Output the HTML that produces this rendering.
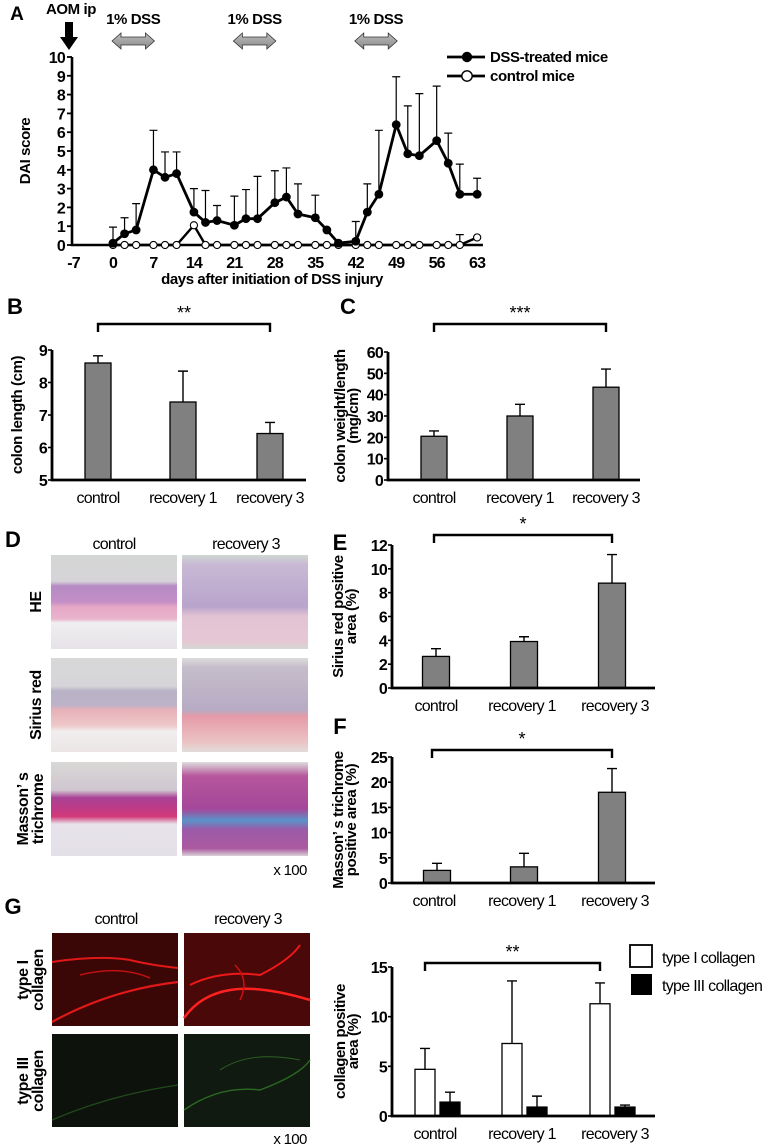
<!DOCTYPE html>
<html><head><meta charset="utf-8">
<style>
html,body{margin:0;padding:0;background:#fff;}
svg{display:block;font-family:"Liberation Sans",Arial,sans-serif;}
text{fill:#000;}
.tk{font-weight:bold;letter-spacing:-0.8px;}
.cat{letter-spacing:-0.7px;}
.ttl{font-weight:bold;letter-spacing:-0.4px;}
</style></head>
<body>
<svg id="fig" width="776" height="1147" viewBox="0 0 776 1147" xmlns="http://www.w3.org/2000/svg">
<defs>
<linearGradient id="heC" x1="0" y1="0" x2="0" y2="1">
<stop offset="0" stop-color="#d3d6d3"/><stop offset="0.28" stop-color="#d6d3d8"/><stop offset="0.33" stop-color="#b58ac4"/><stop offset="0.5" stop-color="#c48fc6"/><stop offset="0.55" stop-color="#e6a7c6"/><stop offset="0.68" stop-color="#e9b4cc"/><stop offset="0.72" stop-color="#f0eef0"/><stop offset="1" stop-color="#e6e2e8"/></linearGradient>
<linearGradient id="heR" x1="0" y1="0" x2="0" y2="1">
<stop offset="0" stop-color="#cfd8d1"/><stop offset="0.1" stop-color="#c8b9d4"/><stop offset="0.55" stop-color="#b9a4cc"/><stop offset="0.65" stop-color="#e2c3d3"/><stop offset="0.92" stop-color="#e6c7d4"/><stop offset="1" stop-color="#d2d9d4"/></linearGradient>
<linearGradient id="srC" x1="0" y1="0" x2="0" y2="1">
<stop offset="0" stop-color="#d8d8d8"/><stop offset="0.3" stop-color="#d6d4d8"/><stop offset="0.35" stop-color="#b8b2c6"/><stop offset="0.5" stop-color="#bdb3c8"/><stop offset="0.55" stop-color="#e7b0b8"/><stop offset="0.72" stop-color="#edc9c9"/><stop offset="0.78" stop-color="#f1eeee"/><stop offset="1" stop-color="#ebe5e6"/></linearGradient>
<linearGradient id="srR" x1="0" y1="0" x2="0" y2="1">
<stop offset="0" stop-color="#dcdcdc"/><stop offset="0.1" stop-color="#c5bdca"/><stop offset="0.55" stop-color="#b7abc4"/><stop offset="0.62" stop-color="#e59aa8"/><stop offset="0.9" stop-color="#ebc4c4"/><stop offset="1" stop-color="#e3dcdc"/></linearGradient>
<linearGradient id="mtC" x1="0" y1="0" x2="0" y2="1">
<stop offset="0" stop-color="#d8d8d6"/><stop offset="0.3" stop-color="#d0c6d0"/><stop offset="0.38" stop-color="#a94295"/><stop offset="0.5" stop-color="#c03a86"/><stop offset="0.58" stop-color="#d23a78"/><stop offset="0.66" stop-color="#e8e3ea"/><stop offset="1" stop-color="#e4e0e8"/></linearGradient>
<linearGradient id="mtR" x1="0" y1="0" x2="0" y2="1">
<stop offset="0" stop-color="#dcdcdc"/><stop offset="0.15" stop-color="#b6569c"/><stop offset="0.5" stop-color="#a5479a"/><stop offset="0.62" stop-color="#5a93c9"/><stop offset="0.72" stop-color="#9b5aa7"/><stop offset="0.92" stop-color="#ac5aa0"/><stop offset="1" stop-color="#d8d2d8"/></linearGradient>
<linearGradient id="dss" x1="0" y1="0" x2="0" y2="1"><stop offset="0" stop-color="#bdbdbd"/><stop offset="1" stop-color="#8a8a8a"/></linearGradient>
</defs>
<g id="root"></g>
</svg>
<script>
// ---------- Panel A data ----------
const daysA = [0,2,4,7,9,11,14,16,18,21,23,25,28,30,32,35,37,39,42,44,46,49,51,53,56,58,60,63];
const dssMean = [0.1,0.6,0.8,4.0,3.6,3.8,1.75,1.2,1.3,1.05,1.4,1.4,2.25,2.55,1.65,1.45,0.8,0.1,0.2,1.75,2.7,6.4,4.85,4.75,5.55,4.35,2.7,2.7];
const dssUpper = [0.95,1.45,2.2,6.1,4.95,4.95,3.0,2.9,2.1,2.6,2.95,3.65,3.95,4.1,3.25,2.65,0.8,0.1,1.25,3.25,6.1,8.95,7.4,8.05,8.45,5.95,4.3,3.55];
const ctrlMean = [0,0,0,0,0,0,1.05,0,0,0,0,0,0,0,0,0,0,0,0,0,0,0,0,0,0,0,0,0.4];
const ctrlUpper = [0,0,0,0,0,0,1.05,0,0,0,0,0,0,0,0,0,0,0,0,0,0,0,0,0,0,0,0.55,0.4];
const ticksXA = [-7,0,7,14,21,28,35,42,49,56,63];
const ticksYA = [0,1,2,3,4,5,6,7,8,9,10];
const dssPeriods = [[0,7],[21,28],[42,49]];
// ---------- Bar panels data ----------
const groups = ["control","recovery 1","recovery 3"];
const lenMean = [8.6,7.4,6.43];
const lenUpper = [8.82,8.35,6.77];
const lenTicks = [5,6,7,8,9];
const wtMean = [20.5,30,43.5];
const wtUpper = [23,35.5,52];
const wtTicks = [0,10,20,30,40,50,60];
const srMean = [2.65,3.9,8.8];
const srUpper = [3.3,4.3,11.2];
const srTicks = [0,2,4,6,8,10,12];
const mtMean = [2.5,3.2,18];
const mtUpper = [3.9,5.9,22.7];
const mtTicks = [0,5,10,15,20,25];
const col1Mean = [4.7,7.3,11.3];
const col1Upper = [6.8,13.6,13.4];
const col3Mean = [1.4,0.9,0.9];
const col3Upper = [2.4,2.0,1.1];
const colTicks = [0,5,10,15];

const NS = "http://www.w3.org/2000/svg";
const root = document.getElementById("root");
function mk(tag, attrs, parent){
  const e = document.createElementNS(NS, tag);
  for (const k in attrs) e.setAttribute(k, attrs[k]);
  (parent||root).appendChild(e);
  return e;
}
function txt(s, x, y, size, anchor, parent, weight, rot, cls){
  const t = mk("text", {x:x, y:y, "font-size":size, "text-anchor":anchor||"middle"}, parent);
  if (weight) t.setAttribute("font-weight", weight);
  if (cls) t.setAttribute("class", cls);
  if (rot) t.setAttribute("transform", "rotate(-90 "+x+" "+y+")");
  t.textContent = s;
  return t;
}

// ================= Panel A =================
const gA = mk("g", {});


const xA = d => 113 + d*5.78;
const yA = v => 245 - v*18.8;
let t;
t = txt("A", 17, 20, 19, "middle", gA, "bold");


t = txt("AOM ip", 71, 14, 15, "middle", gA, null, false, "ttl");


const arr = mk("path", {d:"M65 22 L73 22 L73 37 L78 37 L69 50 L60 37 L65 37 Z", fill:"#000"}, gA);


dssPeriods.forEach((p,i)=>{
  const x0 = xA(p[0])-1, x1 = xA(p[1])+1, cy = 41;
  const a = mk("path", {d:`M${x0} ${cy} L${x0+9} ${cy-8} L${x0+9} ${cy-4} L${x1-9} ${cy-4} L${x1-9} ${cy-8} L${x1} ${cy} L${x1-9} ${cy+8} L${x1-9} ${cy+4} L${x0+9} ${cy+4} L${x0+9} ${cy+8} Z`, fill:"url(#dss)", stroke:"#333", "stroke-width":0.8}, gA);
  
  
  const l = txt("1% DSS", (x0+x1)/2, 24, 15, "middle", gA, null, false, "ttl");
  
  
});
let ax = mk("path", {d:`M72 ${yA(10)} L72 ${yA(0)} L${xA(64)} ${yA(0)}`, stroke:"#000", "stroke-width":2.6, fill:"none"}, gA);


ticksYA.forEach(v=>{
  mk("line", {x1:67, x2:72, y1:yA(v), y2:yA(v), stroke:"#000", "stroke-width":1.8}, gA);
  const l = txt(String(v), 65, yA(v)+6, 16, "end", gA, null, false, "tk");
  
  
});
ticksXA.forEach(d=>{
  const l = txt(String(d), d===-7?xA(d)+1:xA(d), 268, 16, "middle", gA, null, false, "tk");
  
  
});
t = txt("DAI score", 30, yA(5), 15, "middle", gA, null, true, "ttl");


t = txt("days after initiation  of DSS injury", 272, 284, 15, "middle", gA, null, false, "ttl");


let ptsC = daysA.map((d,i)=>xA(d)+","+yA(ctrlMean[i])).join(" ");
let lc = mk("polyline", {points:ptsC, fill:"none", stroke:"#000", "stroke-width":2.4}, gA);


daysA.forEach((d,i)=>{
  if (dssUpper[i] > dssMean[i]+0.05){
    const e = mk("path", {d:`M${xA(d)} ${yA(dssMean[i])} L${xA(d)} ${yA(dssUpper[i])} M${xA(d)-4} ${yA(dssUpper[i])} L${xA(d)+4} ${yA(dssUpper[i])}`, stroke:"#000", "stroke-width":1.2, fill:"none"}, gA);
    
    
  }
  if (ctrlUpper[i] > ctrlMean[i]+0.05){
    const e = mk("path", {d:`M${xA(d)} ${yA(ctrlMean[i])} L${xA(d)} ${yA(ctrlUpper[i])} M${xA(d)-4} ${yA(ctrlUpper[i])} L${xA(d)+4} ${yA(ctrlUpper[i])}`, stroke:"#000", "stroke-width":1.2, fill:"none"}, gA);
    
    
  }
});
let ptsD = daysA.map((d,i)=>xA(d)+","+yA(dssMean[i])).join(" ");
let ld = mk("polyline", {points:ptsD, fill:"none", stroke:"#000", "stroke-width":2.8}, gA);


daysA.forEach((d,i)=>{
  const c = mk("circle", {cx:xA(d), cy:yA(ctrlMean[i]), r:3.6, fill:"#fff", stroke:"#000", "stroke-width":1.1}, gA);
  
  
});
daysA.forEach((d,i)=>{
  const c = mk("circle", {cx:xA(d), cy:yA(dssMean[i]), r:4.4, fill:"#000"}, gA);
  
  
});
let lg = mk("g", {}, gA);


mk("line", {x1:447, x2:485, y1:57, y2:57, stroke:"#000", "stroke-width":2.8}, lg);
mk("circle", {cx:467, cy:57, r:5.2, fill:"#000"}, lg);
t = txt("DSS-treated mice", 490, 62, 15, "start", lg, null, false, "ttl");


mk("line", {x1:447, x2:485, y1:76, y2:76, stroke:"#000", "stroke-width":2.8}, lg);
mk("circle", {cx:467, cy:76, r:5.2, fill:"#fff", stroke:"#000", "stroke-width":1.4}, lg);
t = txt("control mice", 490, 81, 15, "start", lg, null, false, "ttl");



// ================= Generic bar chart =================
function barChart(o){
  const g = mk("g", {});
  
  
  const y = v => o.y0 - (v - o.ticks[0])/(o.ticks[o.ticks.length-1]-o.ticks[0])*(o.y0-o.yTop);
  const l = txt(o.letter, o.letterX, o.letterY, 22, "middle", g, "bold");
  
  
  o.ticks.forEach(v=>{
    mk("line", {x1:o.ax-4, x2:o.ax, y1:y(v), y2:y(v), stroke:"#000", "stroke-width":1.6}, g);
    const tl = txt(String(v), o.ax-5, y(v)+6, 16, "end", g, null, false, "tk");
    
    
  });
  o.titles.forEach((s,i)=>{
    const tt = txt(s, o.titleX + i*13, (o.y0+o.yTop)/2, 15, "middle", g, null, true, "ttl");
    
    
  });
  o.series.forEach(s=>{
    groups.forEach((gname,i)=>{
      const cx = o.centers[i] + s.off;
      const top = y(s.upper[i]);
      const e = mk("path", {d:`M${cx} ${y(s.mean[i])} L${cx} ${top} M${cx-5} ${top} L${cx+5} ${top}`, stroke:"#000", "stroke-width":1.4, fill:"none"}, g);
      
      
      const b = mk("rect", {x:cx-s.w/2, y:y(s.mean[i]), width:s.w, height:o.y0-y(s.mean[i]), fill:s.fill, stroke:"#000", "stroke-width":1.3}, g);
      
      
    });
  });
  const a = mk("path", {d:`M${o.ax} ${o.yTop} L${o.ax} ${o.y0} L${o.axEnd} ${o.y0}`, stroke:"#000", "stroke-width":2.8, fill:"none"}, g);
  
  
  groups.forEach((gname,i)=>{
    const xl = txt(gname, o.labelCenters[i], o.y0+23, 16, "middle", g, null, false, "cat");
    
    
  });
  const br = mk("path", {d:`M${o.br[0]} ${o.brY+8} L${o.br[0]} ${o.brY} L${o.br[1]} ${o.brY} L${o.br[1]} ${o.brY+8}`, stroke:"#000", "stroke-width":2.4, fill:"none"}, g);
  
  
  const st = txt(o.stars, (o.br[0]+o.br[1])/2, o.brY-5, 18, "middle", g);
  
  
  return g;
}
barChart({name:"panel-b-colon-length", letter:"B", letterX:15, letterY:314, ax:52, axEnd:306, y0:480, yTop:350, ticks:lenTicks,
  titles:["colon length (cm)"], titleX:22, centers:[98,183,270], labelCenters:[98,183,270],
  series:[{mean:lenMean, upper:lenUpper, fill:"#808080", w:26, off:0}], br:[98,270], brY:324, stars:"**"});
barChart({name:"panel-c-colon-weight", letter:"C", letterX:348, letterY:314, ax:388, axEnd:640, y0:480, yTop:352, ticks:wtTicks,
  titles:["colon weight/length","(mg/cm)"], titleX:345, centers:[434,520,606], labelCenters:[434,520,606],
  series:[{mean:wtMean, upper:wtUpper, fill:"#808080", w:26, off:0}], br:[434,606], brY:324, stars:"***"});
barChart({name:"panel-e-sirius-red", letter:"E", letterX:340, letterY:550, ax:392, axEnd:655, y0:688, yTop:545, ticks:srTicks,
  titles:["Sirius red positive","area (%)"], titleX:343, centers:[436,524,612], labelCenters:[436,522,615],
  series:[{mean:srMean, upper:srUpper, fill:"#808080", w:27, off:0}], br:[434,612], brY:535, stars:"*"});
barChart({name:"panel-f-masson-trichrome", letter:"F", letterX:340, letterY:734, ax:392, axEnd:655, y0:883, yTop:757, ticks:mtTicks,
  titles:["Masson’ s trichrome","positive area (%)"], titleX:343, centers:[437,524,612], labelCenters:[434,522,615],
  series:[{mean:mtMean, upper:mtUpper, fill:"#808080", w:27, off:0}], br:[432,612], brY:750, stars:"*"});
barChart({name:"panel-g-collagen-chart", letter:"", letterX:0, letterY:0, ax:392, axEnd:655, y0:1116, yTop:967, ticks:colTicks,
  titles:["collagen positive","area (%)"], titleX:345, centers:[425,512,600], labelCenters:[435,522,615],
  series:[{mean:col1Mean, upper:col1Upper, fill:"#fff", w:20, off:0},{mean:col3Mean, upper:col3Upper, fill:"#000", w:20, off:25}],
  br:[425,600], brY:963, stars:"**"});
let gl = mk("g", {});


mk("rect", {x:630, y:945, width:22, height:22, fill:"#fff", stroke:"#000", "stroke-width":1.8}, gl);
t = txt("type I collagen", 662, 963, 16, "start", gl, null, false, "cat");


mk("rect", {x:631, y:974, width:21, height:21, fill:"#000"}, gl);
t = txt("type III collagen", 662, 991, 16, "start", gl, null, false, "cat");



// ================= Panel D images =================
const gD = mk("g", {});


t = txt("D", 13, 547, 22, "middle", gD, "bold");


t = txt("control", 114, 549, 16, "middle", gD, null, false, "cat");


t = txt("recovery 3", 246, 549, 16, "middle", gD, null, false, "cat");


const dRows = [["HE",555,649,"heC","heR"],["Sirius red",658,752,"srC","srR"],["trichrome",762,856,"mtC","mtR"]];
dRows.forEach(r=>{
  const a = mk("rect", {x:51, y:r[1], width:126, height:r[2]-r[1], fill:"url(#"+r[3]+")"}, gD);
  
  
  const b = mk("rect", {x:182, y:r[1], width:126, height:r[2]-r[1], fill:"url(#"+r[4]+")"}, gD);
  
  
});
t = txt("HE", 41, 602, 16, "middle", gD, null, true, "ttl");


t = txt("Sirius red", 41, 705, 16, "middle", gD, null, true, "ttl");


t = txt("Masson’ s", 28, 809, 16, "middle", gD, null, true, "ttl");


t = txt("trichrome", 43, 809, 16, "middle", gD, null, true, "ttl");


t = txt("x 100", 290, 875, 15, "middle", gD, null, false, "cat");



// ================= Panel G images =================
const gG = mk("g", {});


t = txt("G", 13, 914, 22, "middle", gG, "bold");


t = txt("control", 116, 924, 16, "middle", gG, null, false, "cat");


t = txt("recovery 3", 248, 924, 16, "middle", gG, null, false, "cat");


const gImgs = [[52,933,"#3a0606"],[184,933,"#4a0808"],[52,1034,"#0d120c"],[184,1034,"#111a10"]];
gImgs.forEach((p,i)=>{
  const r = mk("rect", {x:p[0], y:p[1], width:126, height:93, fill:p[2]}, gG);
  
  
});
const fib = [
  ["M52 962 Q100 955 130 960 Q150 965 178 968","#e01818",2],["M52 1022 Q110 990 178 982","#e01818",2.2],["M80 975 Q120 965 150 978","#c01010",1.5],
  ["M184 1018 Q200 995 230 990 Q260 985 310 1000","#ff2020",2.5],["M190 985 Q220 970 260 975 Q290 960 300 945","#ee1818",2],["M240 1000 Q250 980 235 965","#cc1010",1.5],
  ["M52 1120 Q110 1095 178 1085","#1f4a1a",1.3],["M184 1110 Q220 1085 260 1090 Q300 1075 310 1060","#2a6a22",1.4],["M220 1070 Q250 1050 300 1060","#2a5a22",1.1]
];
fib.forEach(f=>{
  const p = mk("path", {d:f[0], stroke:f[1], "stroke-width":f[2], fill:"none"}, gG);
  
  
});
t = txt("type I", 28, 980, 16, "middle", gG, null, true, "ttl");


t = txt("collagen", 43, 980, 16, "middle", gG, null, true, "ttl");


t = txt("type III", 28, 1081, 16, "middle", gG, null, true, "ttl");


t = txt("collagen", 43, 1081, 16, "middle", gG, null, true, "ttl");


t = txt("x 100", 290, 1144, 15, "middle", gG, null, false, "cat");


</script>
</body></html>
